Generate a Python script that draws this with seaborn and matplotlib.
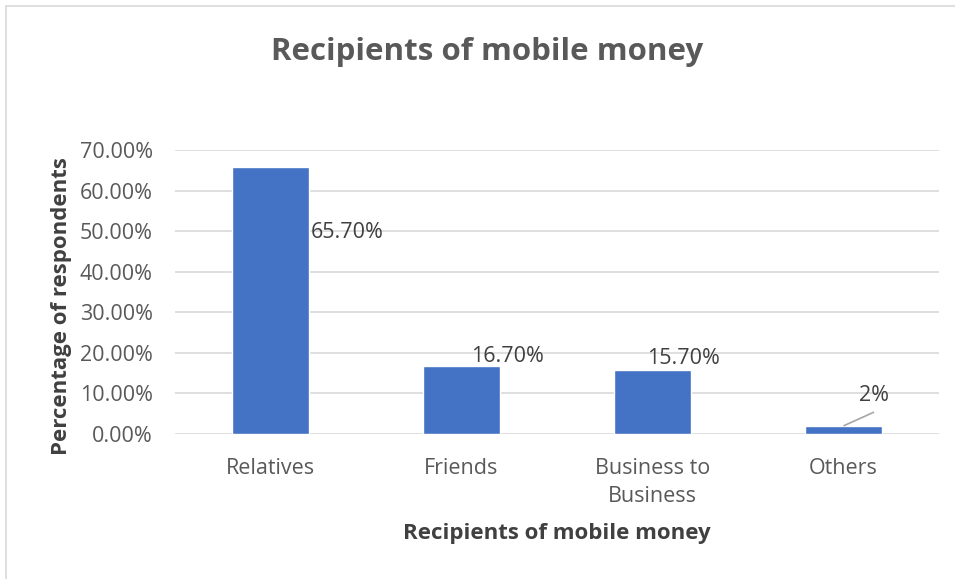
import matplotlib
matplotlib.use("Agg")
import matplotlib.pyplot as plt
import seaborn as sns
import pandas as pd
from matplotlib.lines import Line2D
from matplotlib.ticker import FuncFormatter

categories = ["Relatives", "Friends", "Business to\nBusiness", "Others"]
shares = [65.7, 16.7, 15.7, 2.0]
value_labels = ["65.70%", "16.70%", "15.70%", "2%"]
y_ticks = [0, 10, 20, 30, 40, 50, 60, 70]

sns.set_theme(style="white")
plt.rcParams["font.family"] = ["Open Sans", "DejaVu Sans"]

df = pd.DataFrame({"category": categories, "share": shares})

fig = plt.figure(figsize=(9.55, 5.79), dpi=100)
ax = fig.add_axes([175 / 955, 1 - 434 / 579, 764 / 955, 284 / 579])

sns.barplot(data=df, x="category", y="share", color="#4472C4",
            width=0.4, saturation=1, ax=ax, zorder=3)

ax.set_ylim(0, 70)
ax.set_xlim(-0.5, 3.5)
ax.set_yticks(y_ticks)
ax.yaxis.set_major_formatter(FuncFormatter(lambda v, _: f"{v:.2f}%"))
ax.grid(axis="y", color="#d9d9d9", linewidth=1.2, zorder=0)
for s in ax.spines.values():
    s.set_visible(False)
ax.tick_params(axis="y", length=0, pad=16, labelsize=15.5, labelcolor="#595959")
ax.tick_params(axis="x", length=0, pad=17, labelsize=15.5, labelcolor="#595959")
for t in ax.get_xticklabels():
    t.set_linespacing(1.45)

ax.set_xlabel("Recipients of mobile money", fontsize=16, fontweight="bold",
              color="#404040", labelpad=12)
ax.set_ylabel("Percentage of respondents", fontsize=16, fontweight="bold",
              color="#404040")
ax.yaxis.set_label_coords(-0.135, 0.45)

# Data labels, placed beside each bar as in the spreadsheet layout
label_pos = [(0.40, 49.6), (1.24, 19.0), (2.16, 18.6), (3.16, 9.6)]
for (lx, ly), txt in zip(label_pos, value_labels):
    ax.text(lx, ly, txt, ha="center", va="center", fontsize=15.5,
            color="#404040", zorder=4)
# Leader line for the small "Others" bar
ax.plot([3.0, 3.16], [shares[3], 5.4], color="#a6a6a6", linewidth=1.2,
        zorder=4, solid_capstyle="butt")

fig.text(487 / 955, 1 - 52 / 579, "Recipients of mobile money", ha="center",
         va="center", fontsize=22.5, fontweight="bold", color="#595959")

# Chart-area frame (left and top edges)
fig.add_artist(Line2D([6 / 955, 6 / 955], [0, 1 - 6 / 579],
                      transform=fig.transFigure, color="#d9d9d9", linewidth=1.2))
fig.add_artist(Line2D([6 / 955, 1], [1 - 6 / 579, 1 - 6 / 579],
                      transform=fig.transFigure, color="#d9d9d9", linewidth=1.2))

fig.savefig("out.png", dpi=100)
